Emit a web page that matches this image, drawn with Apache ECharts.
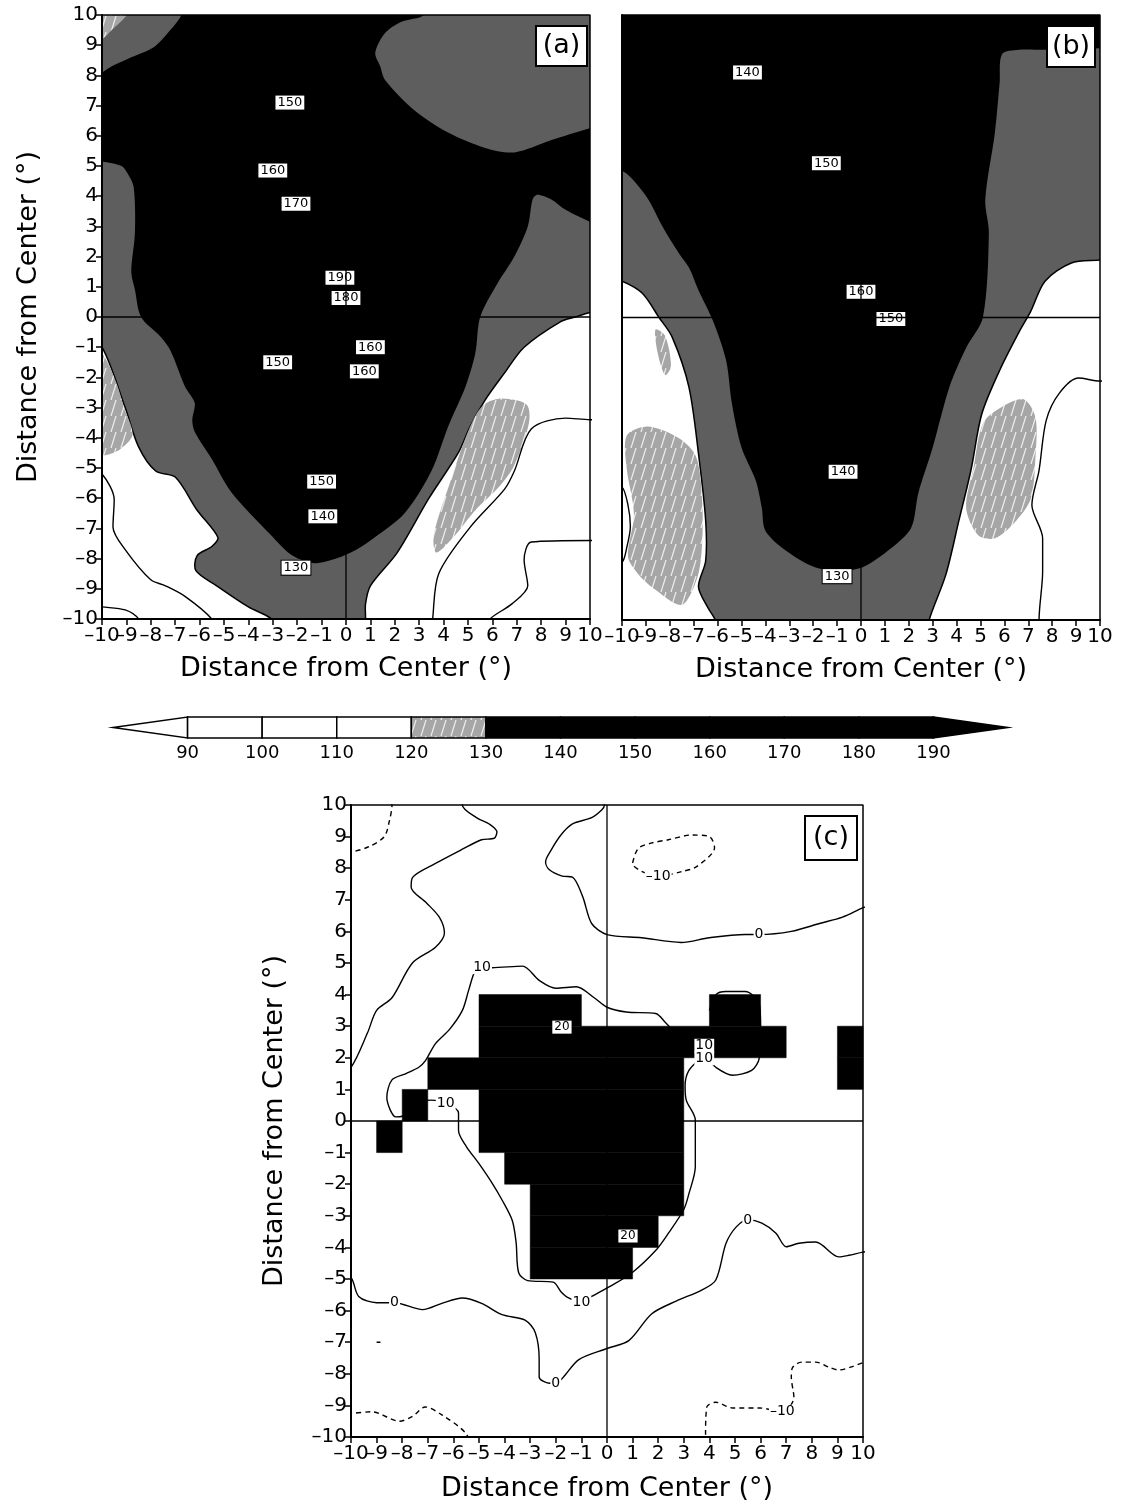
<!DOCTYPE html>
<html>
<head>
<meta charset="utf-8">
<script src="https://cdn.jsdelivr.net/npm/echarts@6/dist/echarts.min.js"></script>
<style>
  html, body { margin: 0; padding: 0; background: #fff; }
  #chart { width: 1127px; height: 1510px; }
</style>
</head>
<body>
<div id="chart"></div>
<script>
// ---------- axes and colour scale ----------
const tickMin = -10, tickMax = 10, tickStep = 1;
const tickValues = [-10, -9, -8, -7, -6, -5, -4, -3, -2, -1, 0, 1, 2, 3, 4, 5, 6, 7, 8, 9, 10];
const barLevels = [90, 100, 110, 120, 130, 140, 150, 160, 170, 180, 190];
const barRange = [80, 200];            // arrow tips of the colour bar
const shadeBreaks = [120, 130];        // white below 120, grey 120-130, black above 130

// ---------- panel (a): filled regions (x, y in degrees) ----------
const aBlack = [
  [-6.75, 10.5], [-6.75, 10], [-7.2, 9.5], [-7.85, 8.95], [-8.8, 8.6], [-9.6, 8.3], [-10, 8.1], [-10.5, 8.0],
  [-10.5, 5.2], [-10, 5.15], [-9.2, 5.0], [-8.95, 4.75], [-8.7, 4.3], [-8.65, 2.8], [-8.8, 1.5], [-8.65, 0.9],
  [-8.4, 0], [-7.6, -0.65], [-7.2, -1.1], [-6.6, -2.3], [-6.2, -2.85], [-6.3, -3.4], [-6.2, -3.8], [-5.5, -4.7],
  [-4.7, -5.8], [-3.1, -7.2], [-2.2, -7.9], [-1.3, -8.15], [-0.6, -8.05], [0.2, -7.8], [1.0, -7.4], [2.4, -6.5],
  [3.5, -5.1], [4.2, -3.6], [4.9, -2.3], [5.3, -1.2], [5.5, 0], [6.2, 1.1], [6.9, 2.0], [7.45, 3.0], [7.65, 3.9],
  [7.85, 4.05], [8.4, 3.9], [9.0, 3.55], [10, 3.15], [10.5, 3.0],
  [10.5, 6.3], [10, 6.25], [8.4, 5.85], [6.9, 5.45], [5.7, 5.6], [4.2, 6.1], [2.8, 6.85], [1.6, 7.85],
  [1.4, 8.3], [1.2, 8.75], [1.6, 9.4], [2.25, 9.77], [3.2, 10], [3.2, 10.5]
];
const aWhite = [
  [[-10.5, -0.95], [-10, -1.0], [-9.05, -3.0], [-8.5, -4.3], [-7.8, -5.1], [-7.0, -5.3], [-6.1, -6.4],
   [-5.25, -7.3], [-5.5, -7.6], [-6.1, -7.9], [-6.15, -8.4], [-5.3, -8.9], [-4.0, -9.6], [-3.05, -10],
   [-2.8, -10.5], [-10.5, -10.5]],
  [[10.5, 0.2], [10, 0.15], [9.4, 0.0], [8.8, -0.15], [7.3, -1.0], [6.5, -1.85], [5.7, -2.75], [5.1, -3.6],
   [4.6, -4.5], [3.4, -6.0], [2.1, -7.8], [1.0, -8.9], [0.8, -9.5], [0.8, -10], [0.75, -10.5], [10.5, -10.5]]
];
const aLight = [
  [[-10.5, 10.5], [-8.9, 10.5], [-9.0, 10], [-9.6, 9.5], [-10, 9.2], [-10.5, 9.1]],
  [[-10.5, -1.1], [-10, -1.2], [-9.4, -2.2], [-9.1, -3.0], [-8.75, -3.9], [-9.3, -4.4], [-10, -4.6], [-10.5, -4.6]],
  [[5.75, -2.85], [6.4, -2.7], [7.4, -2.9], [7.5, -3.5], [6.9, -4.9], [6.3, -5.6], [5.3, -6.4], [4.5, -7.2],
   [3.7, -7.8], [3.6, -7.2], [4.3, -5.4], [4.9, -4.0], [5.35, -3.2]]
];
const aLines = [
  [[-10.5, -5.1], [-10, -5.2], [-9.5, -6.05], [-9.55, -6.95], [-9.05, -7.7], [-8.0, -8.7], [-7.4, -8.9], [-6.6, -9.25], [-5.5, -10], [-5.3, -10.5]],
  [[-10.5, -9.55], [-10, -9.6], [-9.05, -9.7], [-8.5, -10], [-8.3, -10.5]],
  [[10.5, -3.4], [10, -3.4], [9.0, -3.35], [7.6, -3.7], [6.9, -5.1], [6.5, -5.7], [5.1, -6.95], [3.8, -8.5], [3.55, -10], [3.5, -10.5]],
  [[10.5, -7.4], [10, -7.4], [7.6, -7.45], [7.3, -8.05], [7.45, -8.9], [6.8, -9.5], [5.9, -10], [5.6, -10.5]]
];
const aTags = [
  [-2.3, 7.1, '150'], [-3.0, 4.85, '160'], [-2.05, 3.75, '170'], [-0.25, 1.3, '190'], [0, 0.63, '180'],
  [-2.8, -1.5, '150'], [1.0, -1.0, '160'], [0.75, -1.8, '160'], [-1.0, -5.45, '150'], [-0.95, -6.6, '140'],
  [-2.05, -8.3, '130']
];

// ---------- panel (b) ----------
const bBlack = [
  [-10.5, 10.5], [10.5, 10.5], [10.5, 8.9], [10, 8.9], [7.7, 8.85], [6.6, 8.85], [5.9, 8.7], [5.8, 7.75],
  [5.6, 6.1], [5.2, 3.9], [5.35, 2.8], [5.1, 0], [4.4, -1.0], [3.7, -2.3], [3.0, -4.3], [2.4, -5.8],
  [2.1, -6.95], [1.3, -7.6], [-0.1, -8.3], [-1.75, -8.3], [-3.15, -7.7], [-4.0, -7.05], [-4.15, -6.3],
  [-4.4, -5.4], [-5.0, -4.3], [-5.4, -2.85], [-5.65, -1.4], [-6.2, -0.1], [-6.8, 0.9], [-7.2, 1.65],
  [-7.6, 2.1], [-8.3, 3.0], [-8.9, 3.9], [-9.6, 4.6], [-10, 4.85], [-10.5, 4.9]
];
const bWhite = [
  [[-10.5, 1.25], [-10, 1.2], [-9.15, 0.8], [-8.45, 0], [-7.9, -0.65], [-7.2, -2.3], [-6.8, -4.5], [-6.5, -6.7],
   [-6.5, -8.05], [-6.8, -8.9], [-6.4, -9.6], [-6.1, -10], [-6.0, -10.5], [-10.5, -10.5]],
  [[10.5, 1.95], [10, 1.9], [8.8, 1.8], [7.7, 1.2], [7.1, 0.2], [6.6, -0.5], [5.8, -1.75], [5.05, -3.2],
   [4.6, -5.05], [4.1, -6.7], [3.55, -8.5], [2.85, -10], [2.8, -10.5], [10.5, -10.5]]
];
const bLight = [
  [[-9.8, -3.9], [-8.9, -3.6], [-7.6, -4.0], [-6.9, -4.6], [-6.65, -6.0], [-6.65, -7.5], [-6.85, -8.6],
   [-7.5, -9.5], [-8.6, -9.0], [-9.3, -8.5], [-9.75, -7.9], [-9.5, -6.5], [-9.8, -5.0]],
  [[-8.6, -0.4], [-8.2, -0.6], [-7.95, -1.6], [-8.2, -1.9], [-8.5, -1.2]],
  [[5.1, -3.5], [5.8, -3.0], [6.8, -2.7], [7.3, -3.3], [7.3, -4.6], [7.1, -6.0], [6.4, -6.8], [5.6, -7.3],
   [4.9, -7.2], [4.4, -6.3], [4.7, -5.0]]
];
const bLines = [
  [[10.5, -2.1], [10, -2.1], [9.1, -2.0], [8.3, -2.5], [7.75, -3.4], [7.45, -5.05], [7.15, -6.2], [7.6, -7.3], [7.6, -8.4], [7.45, -10], [7.45, -10.5]],
  [[-10.5, -5.5], [-10, -5.6], [-9.75, -6.2], [-9.65, -6.9], [-9.8, -7.6], [-10, -8.1], [-10.5, -8.2]]
];
const bTags = [
  [-4.75, 8.1, '140'], [-1.45, 5.1, '150'], [0, 0.85, '160'], [1.25, -0.05, '150'],
  [-0.75, -5.1, '140'], [-1.0, -8.55, '130']
];

// ---------- panel (c): significant cells as runs [row bottom, x from, x to] ----------
const cSigRuns = [
  [3, -5, -1], [3, 4, 6],
  [2, -5, 7], [2, 9, 10],
  [1, -7, 3], [1, 9, 10],
  [0, -8, -7], [0, -5, 3],
  [-1, -9, -8], [-1, -5, 3],
  [-2, -4, 3], [-3, -3, 3], [-4, -3, 2], [-5, -3, 1]
];
const cSolid = [
  [[-5.65, 10.5], [-5.65, 10], [-5.1, 9.6], [-4.6, 9.4], [-4.3, 9.15], [-4.4, 8.95], [-4.9, 8.9], [-5.65, 8.6],
   [-6.7, 8.15], [-7.6, 7.7], [-7.65, 7.4], [-7.05, 6.9], [-6.55, 6.45], [-6.35, 5.95], [-6.7, 5.5], [-7.6, 5.0],
   [-8.4, 3.9], [-9.0, 3.5], [-9.35, 2.8], [-10, 1.7], [-10.5, 1.5]],
  [[3.7, 2.0], [3.2, 1.6], [3.05, 1.1], [3.1, 0.65], [3.45, 0.03], [3.45, -1.45], [3.2, -2.3], [3.0, -2.8],
   [2.4, -3.55], [1.9, -4.1], [0.98, -4.8], [0.08, -5.25], [-0.6, -5.55], [-1.0, -5.72], [-1.5, -5.6],
   [-1.8, -5.4], [-2.1, -5.1], [-3.1, -5.05], [-3.45, -4.8], [-3.55, -3.85], [-3.7, -3.15], [-4.1, -2.5],
   [-4.5, -1.95], [-5.0, -1.35], [-5.5, -0.8], [-5.8, -0.3], [-5.8, 0.25], [-6.3, 0.57], [-6.9, 0.66],
   [-7.5, 0.5], [-8.0, 0.15], [-8.25, 0.13], [-8.6, 0.75], [-8.4, 1.3], [-7.85, 1.5], [-7.35, 1.7],
   [-7.1, 1.9], [-6.7, 2.45], [-6.15, 2.9], [-5.65, 3.5], [-5.4, 4.15], [-5.15, 4.75], [-4.88, 4.87],
   [-4.5, 4.85], [-3.3, 4.9], [-2.65, 4.45], [-2.0, 4.2], [-1.2, 4.25], [-0.5, 3.9], [0, 3.6], [0.75, 3.45],
   [1.9, 3.4], [2.3, 3.1], [2.8, 2.7], [3.7, 2.4]],
  [[3.9, 2.0], [4.25, 1.7], [4.9, 1.45], [5.65, 1.6], [5.95, 2.0], [6.0, 3.0], [5.95, 3.7], [5.4, 4.1],
   [4.65, 4.1], [4.25, 4.0], [4.0, 3.5]],
  [[-0.1, 10.5], [-0.1, 10], [-0.2, 9.85], [-0.6, 9.6], [-1.35, 9.4], [-1.8, 9.05], [-2.2, 8.55], [-2.4, 8.2],
   [-2.25, 7.95], [-1.75, 7.75], [-1.35, 7.72], [-0.95, 7.1], [-0.6, 6.25], [0, 5.9], [1.35, 5.8], [2.9, 5.65],
   [4.0, 5.8], [5.4, 5.9], [5.94, 5.9], [7.2, 6.0], [8.3, 6.25], [9.2, 6.45], [10, 6.75], [10.5, 6.9]],
  [[-10.5, -4.8], [-10, -4.95], [-9.7, -5.55], [-9.0, -5.75], [-8.3, -5.75], [-7.2, -5.97], [-6.45, -5.77],
   [-5.65, -5.6], [-4.9, -5.77], [-4.1, -6.13], [-3.2, -6.3], [-2.8, -6.7], [-2.65, -7.55], [-2.65, -8.1],
   [-2.25, -8.3], [-2.0, -8.3], [-1.7, -8.1], [-1.1, -7.55], [0, -7.2], [0.85, -6.95], [1.75, -6.1],
   [2.7, -5.7], [3.7, -5.35], [4.25, -5.03], [4.65, -3.87], [5.05, -3.35], [5.5, -3.13], [6.05, -3.23],
   [6.6, -3.55], [7.0, -3.98], [7.5, -3.87], [8.15, -3.83], [9.05, -4.3], [9.45, -4.25], [10, -4.15], [10.5, -4.1]],
  [[-9.0, -7.0], [-8.85, -7.0]]
];
const cDashed = [
  [[-10.5, 8.4], [-10, 8.5], [-9.3, 8.68], [-8.7, 9.0], [-8.5, 9.5], [-8.4, 10], [-8.4, 10.5]],
  [[1.1, 8.45], [1.25, 8.65], [1.75, 8.8], [2.4, 8.9], [3.3, 9.05], [4.0, 9.0], [4.2, 8.65], [3.5, 8.05],
   [2.95, 7.9], [2.0, 7.75], [1.0, 8.15], [1.1, 8.45]],
  [[-10.5, -9.25], [-10, -9.25], [-9.2, -9.2], [-8.1, -9.5], [-7.6, -9.35], [-7.1, -9.05], [-6.45, -9.3], [-5.5, -9.9], [-5.3, -10.5]],
  [[3.85, -10.5], [3.85, -9.95], [3.9, -9.05], [4.25, -8.9], [4.9, -9.08], [5.95, -9.08], [6.85, -9.2], [7.3, -8.75],
   [7.2, -8.1], [7.25, -7.8], [7.6, -7.63], [8.15, -7.63], [8.7, -7.8], [9.05, -7.88], [9.55, -7.78], [10, -7.65], [10.5, -7.6]]
];
const cTags = [
  [-4.88, 4.87, '10'], [3.8, 2.38, '10'], [3.8, 1.98, '10'], [-6.3, 0.57, '10'], [-1.0, -5.75, '10'],
  [5.94, 5.9, '0'], [-8.3, -5.75, '0'], [-2.0, -8.3, '0'], [5.5, -3.13, '0'],
  [2.0, 7.75, '\u201310'], [6.85, -9.2, '\u201310']
];
const cBoxTags = [[-1.76, 2.97, '20'], [0.82, -3.64, '20']];

// ---------- drawing helpers ----------
const FONT = 'DejaVu Sans';
const minusFmt = v => (v < 0 ? '\u2013' + Math.abs(v) : String(v));
const axisTitle = 'Distance from Center (\u00b0)';

function streakFill(base, streak) {
  const cv = document.createElement('canvas');
  cv.width = 10; cv.height = 16;
  const g = cv.getContext('2d');
  g.fillStyle = base; g.fillRect(0, 0, 10, 16);
  g.strokeStyle = streak; g.lineWidth = 1.2;
  g.beginPath(); g.moveTo(1, 16); g.lineTo(6, 0); g.stroke();
  return { image: cv, repeat: 'repeat' };
}
const lightFill = streakFill('#a6a6a6', '#efefef');

function shadeOf(level) {
  if (level >= shadeBreaks[1]) return '#000';
  if (level >= shadeBreaks[0]) return lightFill;
  return '#fff';
}

function polySeries(gi, shapes, style, z) {
  return {
    type: 'custom', xAxisIndex: gi, yAxisIndex: gi, z, clip: true, silent: true,
    data: shapes.map(s => s[0]),
    renderItem: (params, api) => ({
      type: 'polygon',
      shape: { points: shapes[params.dataIndex].map(p => api.coord(p)), smooth: 0.3 },
      style: Object.assign({}, style)
    })
  };
}

function curveSeries(gi, pts, dashed, z) {
  return {
    type: 'line', xAxisIndex: gi, yAxisIndex: gi, data: pts, smooth: 0.3, symbol: 'none',
    silent: true, z, clip: true,
    lineStyle: { color: '#000', width: 1.4, type: dashed ? [5, 4] : 'solid' }
  };
}

function straightSeries(gi, pts, width, z) {
  return {
    type: 'line', xAxisIndex: gi, yAxisIndex: gi, data: pts, symbol: 'none', silent: true,
    z, clip: false, lineStyle: { color: '#000', width }
  };
}

function tagSeries(gi, tags, boxed, size, z) {
  return {
    type: 'custom', xAxisIndex: gi, yAxisIndex: gi, z, silent: true, clip: false,
    data: tags.map(t => [t[0], t[1]]),
    renderItem: (params, api) => {
      const t = tags[params.dataIndex];
      const c = api.coord([t[0], t[1]]);
      return {
        type: 'text', x: c[0], y: c[1],
        style: {
          text: t[2], fill: '#000', fontFamily: FONT, fontSize: size,
          align: 'center', verticalAlign: 'middle', backgroundColor: '#fff',
          borderColor: boxed ? '#000' : 'transparent', borderWidth: boxed ? 1 : 0,
          padding: boxed ? [1, 2, 0, 2] : [0, 1]
        }
      };
    }
  };
}

// x tick labels are set under the axis of each panel so that neighbouring
// labels may touch, as they do in the crowded scale
function xLabelSeries(gi) {
  return {
    type: 'custom', xAxisIndex: gi, yAxisIndex: gi, z: 12, silent: true, clip: false,
    data: tickValues.map(v => [v, tickMin]),
    renderItem: (params, api) => {
      const c = api.coord([tickValues[params.dataIndex], tickMin]);
      return {
        type: 'text', x: c[0], y: c[1] + 7,
        style: { text: minusFmt(tickValues[params.dataIndex]), fill: '#000', fontFamily: FONT, fontSize: 20,
                 align: 'center', verticalAlign: 'top' }
      };
    }
  };
}

function cellSeries(gi, runs, z) {
  return {
    type: 'custom', xAxisIndex: gi, yAxisIndex: gi, z, silent: true,
    data: runs.map(r => [r[1], r[0]]),
    renderItem: (params, api) => {
      const r = runs[params.dataIndex];
      const p0 = api.coord([r[1], r[0] + 1]);
      const p1 = api.coord([r[2], r[0]]);
      return {
        type: 'rect',
        shape: { x: p0[0], y: p0[1], width: p1[0] - p0[0], height: p1[1] - p0[1] },
        style: { fill: '#000', stroke: '#000', lineWidth: 0.5 }
      };
    }
  };
}

function frameSeries(gi) {
  return straightSeries(gi, [[tickMin, tickMin], [tickMin, tickMax], [tickMax, tickMax], [tickMax, tickMin], [tickMin, tickMin]], 1.5, 9);
}

function zeroSeries(gi) {
  return [
    straightSeries(gi, [[tickMin, 0], [tickMax, 0]], 1.3, 8),
    straightSeries(gi, [[0, tickMin], [0, tickMax]], 1.3, 8)
  ];
}

function valueAxis(gi, opts) {
  return Object.assign({
    type: 'value', gridIndex: gi, min: tickMin, max: tickMax, interval: tickStep, z: 10,
    axisLine: { show: true, onZero: false, lineStyle: { color: '#000', width: 2 } },
    axisTick: { show: true, length: 6, lineStyle: { color: '#000', width: 1.5 } },
    axisLabel: { show: true, color: '#000', fontFamily: FONT, fontSize: 20, margin: 4, formatter: minusFmt,
                 showMinLabel: true, showMaxLabel: true },
    splitLine: { show: false },
    nameTextStyle: { color: '#000', fontFamily: FONT, fontSize: 27 }
  }, opts);
}

// ---------- colour bar ----------
const barSegments = [[barRange[0], barLevels[0]]]
  .concat(barLevels.slice(0, -1).map((lo, i) => [lo, barLevels[i + 1]]))
  .concat([[barLevels[barLevels.length - 1], barRange[1]]]);

const barSeries = {
  type: 'custom', xAxisIndex: 3, yAxisIndex: 3, z: 5, silent: true, clip: false,
  data: barSegments.map(s => [s[0], 0]),
  renderItem: (params, api) => {
    const [lo, hi] = barSegments[params.dataIndex];
    const fill = shadeOf(lo);
    if (lo < barLevels[0]) {
      return { type: 'polygon', shape: { points: [api.coord([lo, 0.5]), api.coord([hi, 1]), api.coord([hi, 0])] },
               style: { fill, stroke: '#000', lineWidth: 1.5 } };
    }
    if (hi > barLevels[barLevels.length - 1]) {
      return { type: 'polygon', shape: { points: [api.coord([lo, 1]), api.coord([hi, 0.5]), api.coord([lo, 0])] },
               style: { fill, stroke: '#000', lineWidth: 1.5 } };
    }
    const a = api.coord([lo, 1]), b = api.coord([hi, 0]);
    return { type: 'rect', shape: { x: a[0], y: a[1], width: b[0] - a[0], height: b[1] - a[1] },
             style: { fill, stroke: '#000', lineWidth: 1.5 } };
  }
};

// ---------- panel label boxes ----------
function panelTag(text, left, top, w, h) {
  return {
    type: 'group', left, top, z: 100,
    children: [
      { type: 'rect', z: 100, shape: { x: 0, y: 0, width: w, height: h }, style: { fill: '#fff', stroke: '#000', lineWidth: 2 } },
      { type: 'text', z: 101, x: w / 2, y: h / 2, style: { text, fill: '#000', fontFamily: FONT, fontSize: 27, align: 'center', verticalAlign: 'middle' } }
    ]
  };
}

const grey = '#5e5e5e';
const noXLabels = { show: false };
const option = {
  animation: false,
  backgroundColor: '#fff',
  grid: [
    { left: 102, top: 15, width: 488, height: 604, show: true, backgroundColor: grey, borderWidth: 0 },
    { left: 622, top: 15, width: 478, height: 605, show: true, backgroundColor: grey, borderWidth: 0 },
    { left: 351, top: 805, width: 512, height: 632, show: true, backgroundColor: '#fff', borderWidth: 0 },
    { left: 113, top: 717, width: 895, height: 21, show: false }
  ],
  xAxis: [
    valueAxis(0, { name: axisTitle, nameLocation: 'middle', nameGap: 36, axisLabel: noXLabels }),
    valueAxis(1, { name: axisTitle, nameLocation: 'middle', nameGap: 36, axisLabel: noXLabels }),
    valueAxis(2, { name: axisTitle, nameLocation: 'middle', nameGap: 38, axisLabel: noXLabels }),
    {
      type: 'value', gridIndex: 3, min: barRange[0], max: barRange[1], interval: 10,
      axisLine: { show: false }, axisTick: { show: false }, splitLine: { show: false },
      axisLabel: { color: '#000', fontFamily: FONT, fontSize: 18, margin: 6,
                   formatter: v => (v < barLevels[0] || v > barLevels[barLevels.length - 1]) ? '' : String(v) }
    }
  ],
  yAxis: [
    valueAxis(0, { name: axisTitle, nameLocation: 'middle', nameRotate: 90, nameGap: 60 }),
    valueAxis(1, { axisTick: { show: false }, axisLabel: { show: false } }),
    valueAxis(2, { name: axisTitle, nameLocation: 'middle', nameRotate: 90, nameGap: 63 }),
    { type: 'value', gridIndex: 3, min: 0, max: 1, show: false }
  ],
  graphic: [
    panelTag('(a)', 535, 25, 51, 40),
    panelTag('(b)', 1046, 25, 48, 41),
    panelTag('(c)', 804, 815, 52, 44)
  ],
  series: [
    // (a)
    polySeries(0, aWhite, { fill: '#fff', stroke: '#000', lineWidth: 1.5 }, 2),
    polySeries(0, [aBlack], { fill: '#000' }, 3),
    polySeries(0, aLight, { fill: lightFill }, 4),
    ...aLines.map(l => curveSeries(0, l, false, 5)),
    tagSeries(0, aTags, true, 13, 6),
    ...zeroSeries(0),
    frameSeries(0),
    xLabelSeries(0),
    // (b)
    polySeries(1, bWhite, { fill: '#fff', stroke: '#000', lineWidth: 1.5 }, 2),
    polySeries(1, [bBlack], { fill: '#000' }, 3),
    polySeries(1, bLight, { fill: lightFill }, 4),
    ...bLines.map(l => curveSeries(1, l, false, 5)),
    tagSeries(1, bTags, true, 13, 6),
    ...zeroSeries(1),
    frameSeries(1),
    xLabelSeries(1),
    // (c)
    cellSeries(2, cSigRuns, 3),
    ...cSolid.map(l => curveSeries(2, l, false, 4)),
    ...cDashed.map(l => curveSeries(2, l, true, 4)),
    tagSeries(2, cTags, false, 14, 6),
    tagSeries(2, cBoxTags, true, 12, 6),
    ...zeroSeries(2),
    frameSeries(2),
    xLabelSeries(2),
    // colour bar
    barSeries
  ]
};

echarts.init(document.getElementById('chart'), null, { renderer: 'canvas' }).setOption(option);
</script>
</body>
</html>
